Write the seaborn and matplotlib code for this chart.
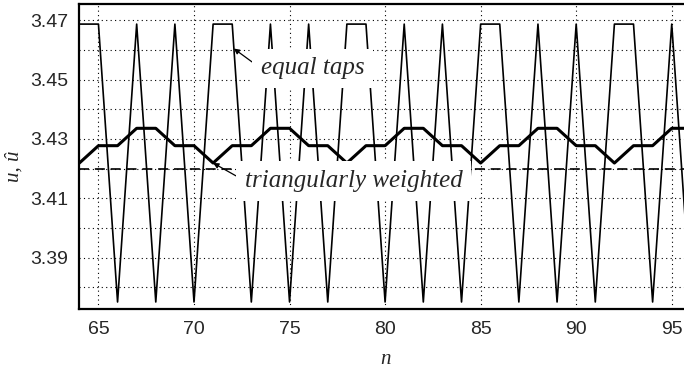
import numpy as np
import pandas as pd
import matplotlib
matplotlib.use("Agg")
import matplotlib.pyplot as plt
import seaborn as sns

# ==========================================
#     DATA
# ==========================================
n = list(range(64, 97))

# constant input u
u_level = 3.42

# output with equal taps (two quantizer levels)
equal_taps = [3.46875, 3.46875, 3.375, 3.46875, 3.375, 3.46875, 3.375,
              3.46875, 3.46875, 3.375, 3.46875, 3.375, 3.46875, 3.375,
              3.46875, 3.46875, 3.375, 3.46875, 3.375, 3.46875, 3.375,
              3.46875, 3.46875, 3.375, 3.46875, 3.375, 3.46875, 3.375,
              3.46875, 3.46875, 3.375, 3.46875, 3.375]

# output with triangularly weighted taps
tri_weighted = [3.421875, 3.427734, 3.427734, 3.433594, 3.433594, 3.427734, 3.427734,
                3.421875, 3.427734, 3.427734, 3.433594, 3.433594, 3.427734, 3.427734,
                3.421875, 3.427734, 3.427734, 3.433594, 3.433594, 3.427734, 3.427734,
                3.421875, 3.427734, 3.427734, 3.433594, 3.433594, 3.427734, 3.427734,
                3.421875, 3.427734, 3.427734, 3.433594, 3.433594]

x_ticks = [65, 70, 75, 80, 85, 90, 95]
y_ticks = [3.39, 3.41, 3.43, 3.45, 3.47]
y_minor = [3.38, 3.40, 3.42, 3.44, 3.46]

df = pd.DataFrame({"n": n, "equal": equal_taps, "tri": tri_weighted,
                   "u": [u_level] * len(n)})

# ==========================================
#               STYLE
# ==========================================
sns.set_style("white")
plt.rcParams["font.family"] = ["Liberation Sans", "DejaVu Sans"]

fig = plt.figure(figsize=(6.84, 3.71), dpi=100)
# right edge sits just past the figure, so the right spine is cut off
ax = fig.add_axes([0.116, 0.166, 0.894, 0.823])

# ==========================================
#               PLOT
# ==========================================
sns.lineplot(data=df, x="n", y="u", ax=ax, color="k", lw=1.2,
             linestyle=(0, (6, 3.5)), zorder=2)
sns.lineplot(data=df, x="n", y="equal", ax=ax, color="k", lw=1.2, zorder=3)
sns.lineplot(data=df, x="n", y="tri", ax=ax, color="k", lw=2.2, zorder=4)

ax.set_xlim(64, 96)
ax.set_ylim(3.3725, 3.4755)
ax.set_xticks(x_ticks)
ax.set_yticks(y_ticks)
ax.set_yticks(y_minor, minor=True)
ax.set_yticklabels([f"{v:.2f}" for v in y_ticks])

ax.grid(True, which="both", color="k", linestyle=(0, (1, 3)), lw=0.8)
ax.tick_params(which="both", direction="in", length=3, width=1,
               labelsize=14, pad=8, color="k")
for sp in ax.spines.values():
    sp.set_color("k")
    sp.set_linewidth(1.6)

serif = {"family": ["Liberation Serif", "DejaVu Serif"], "style": "italic",
         "size": 15}
ax.set_xlabel("n", fontdict=serif, labelpad=9)
ax.set_ylabel("u, û", fontdict=serif)
ax.yaxis.set_label_coords(-0.092, 0.47)

# ==========================================
#               ANNOTATIONS
# ==========================================
box = dict(boxstyle="square,pad=0.35", fc="white", ec="none")
arrow = dict(arrowstyle="-|>", color="k", lw=0.9, mutation_scale=8,
             shrinkA=0, shrinkB=0, relpos=(0, 0.5))

ax.annotate("equal taps", xy=(72.08, 3.4605), xytext=(73.5, 3.4538),
            fontsize=18, fontfamily=["Liberation Serif"], style="italic",
            va="center", ha="left", bbox=box, zorder=6, arrowprops=arrow)
ax.annotate("triangularly weighted", xy=(71.0, 3.4219), xytext=(72.65, 3.4159),
            fontsize=18, fontfamily=["Liberation Serif"], style="italic",
            va="center", ha="left", bbox=box, zorder=6, arrowprops=arrow)

fig.savefig("out.png", dpi=100)
